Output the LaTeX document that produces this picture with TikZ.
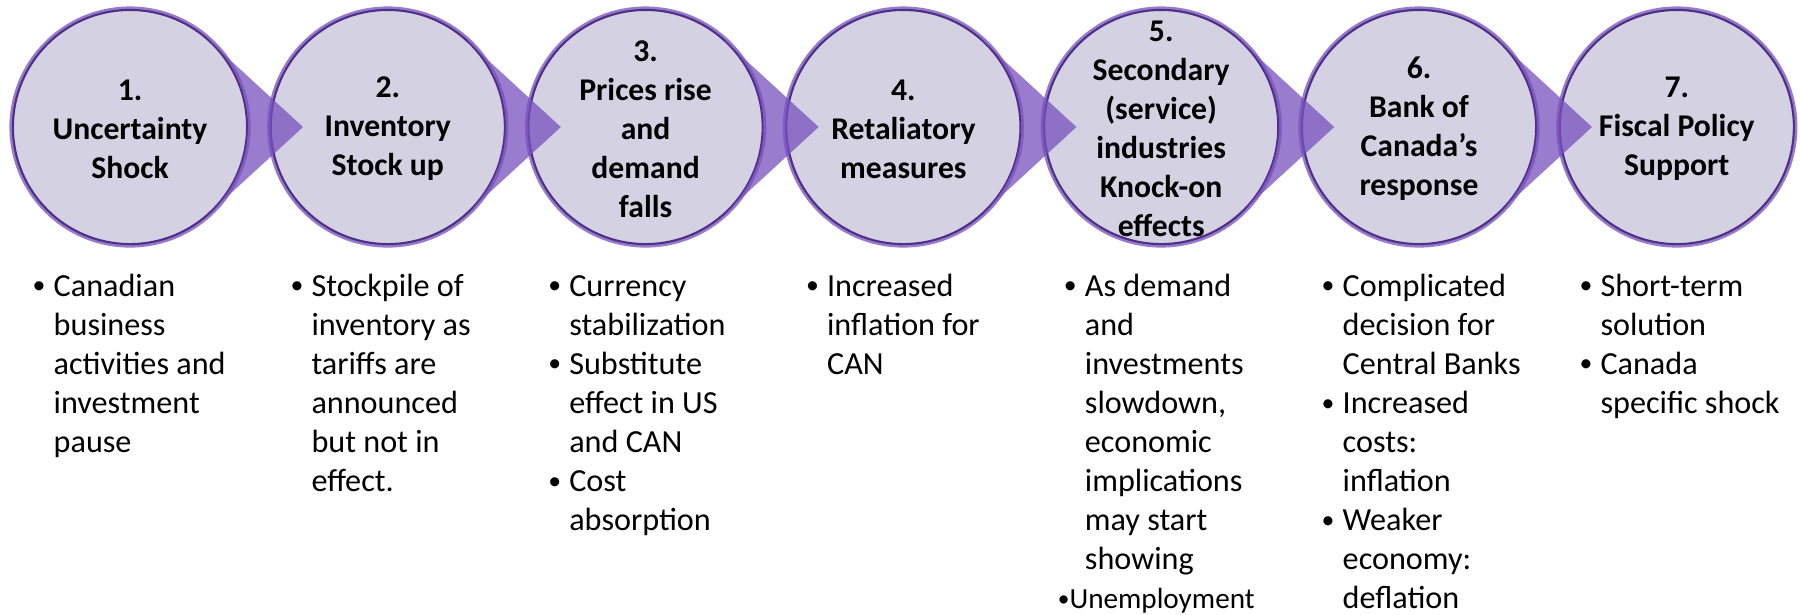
\documentclass[tikz,border=0pt]{standalone}
\usepackage{fontspec}
\setmainfont{Carlito}
\usepackage{tikz}
\usetikzlibrary{positioning, calc}

\definecolor{stagefill}{RGB}{212,209,226}
\definecolor{stageline}{RGB}{80,48,135}
\definecolor{stageglow}{RGB}{150,122,204}
\definecolor{tipfill}{RGB}{120,80,190}

\newcommand{\bul}{\makebox[0.21cm][l]{\raisebox{0.15ex}{\scalebox{0.8}{\textbullet}}}}
\newcommand{\ind}{\hspace*{0.21cm}}

\begin{document}
\begin{tikzpicture}[x=0.01cm, y=-0.01cm,
  stage/.style={circle, minimum size=2.34cm, inner sep=0pt, outer sep=0pt,
    fill=stagefill, draw=stageline, line width=0.6pt,
    preaction={draw=stageglow, line width=2pt}},
  title/.style={align=center, inner sep=0pt, font=\fontsize{9}{11.1}\selectfont\bfseries},
  pointer/.style={fill=tipfill, fill opacity=0.75, draw=none},
  notes/.style={anchor=base west, inner sep=0pt, font=\fontsize{9.15}{11.12}\selectfont},
]
  \useasboundingbox (0,0) rectangle (1800,614);

  \foreach \i in {1,...,7}
    \node[stage] (c\i) at ({130+257.8*(\i-1)},127) {};

  \foreach \i in {1,...,6} {
    \coordinate (tip\i) at ($(c\i.center)+(173,0)$);
    \fill[pointer] (c\i.47.5) -- (tip\i) -- (c\i.-47.5)
      arc[start angle=-47.5, end angle=47.5, radius=1.17cm] -- cycle;
  }

  \node[title] (h1) at ([yshift=-0.02cm]c1.center) {1.\\Uncertainty\\Shock};
  \node[title] (h2) at ([yshift=-0.02cm]c2.center) {2.\\Inventory\\Stock up};
  \node[title] (h3) at ([yshift=-0.02cm]c3.center) {3.\\Prices rise\\and\\demand\\falls};
  \node[title] (h4) at ([yshift=-0.02cm]c4.center) {4.\\Retaliatory\\measures};
  \node[title] (h5) at ([yshift=-0.02cm]c5.center) {5.\\Secondary\\(service)\\industries\\Knock-on\\effects};
  \node[title] (h6) at ([yshift=-0.02cm]c6.center) {6.\\Bank of\\Canada’s\\response};
  \node[title] (h7) at ([yshift=-0.02cm]c7.center) {7.\\Fiscal Policy\\Support};

  \node[notes] (n1) at ($(c1.center)+(-98,169)$) {\begin{tabular}[t]{@{}l@{}}
    \bul Canadian\\ \ind business\\ \ind activities and\\ \ind investment\\ \ind pause
  \end{tabular}};
  \node[notes] (n2) at ($(c2.center)+(-98,169)$) {\begin{tabular}[t]{@{}l@{}}
    \bul Stockpile of\\ \ind inventory as\\ \ind tariffs are\\ \ind announced\\ \ind but not in\\ \ind effect.
  \end{tabular}};
  \node[notes] (n3) at ($(c3.center)+(-98,169)$) {\begin{tabular}[t]{@{}l@{}}
    \bul Currency\\ \ind stabilization\\ \bul Substitute\\ \ind effect in US\\ \ind and CAN\\ \bul Cost\\ \ind absorption
  \end{tabular}};
  \node[notes] (n4) at ($(c4.center)+(-98,169)$) {\begin{tabular}[t]{@{}l@{}}
    \bul Increased\\ \ind inflation for\\ \ind CAN
  \end{tabular}};
  \node[notes] (n5) at ($(c5.center)+(-98,169)$) {\begin{tabular}[t]{@{}l@{}}
    \bul As demand\\ \ind and\\ \ind investments\\ \ind slowdown,\\ \ind economic\\ \ind implications\\ \ind may start\\ \ind showing\\
    \hspace*{-0.06cm}{\fontsize{8.3}{11.12}\selectfont\raisebox{0.15ex}{\scalebox{0.8}{\textbullet}}Unemployment}
  \end{tabular}};
  \node[notes] (n6) at ($(c6.center)+(-98,169)$) {\begin{tabular}[t]{@{}l@{}}
    \bul Complicated\\ \ind decision for\\ \ind Central Banks\\ \bul Increased\\ \ind costs:\\ \ind inflation\\ \bul Weaker\\ \ind economy:\\ \ind deflation
  \end{tabular}};
  \node[notes] (n7) at ($(c7.center)+(-98,169)$) {\begin{tabular}[t]{@{}l@{}}
    \bul Short-term\\ \ind solution\\ \bul Canada\\ \ind specific shock
  \end{tabular}};
\end{tikzpicture}
\end{document}
